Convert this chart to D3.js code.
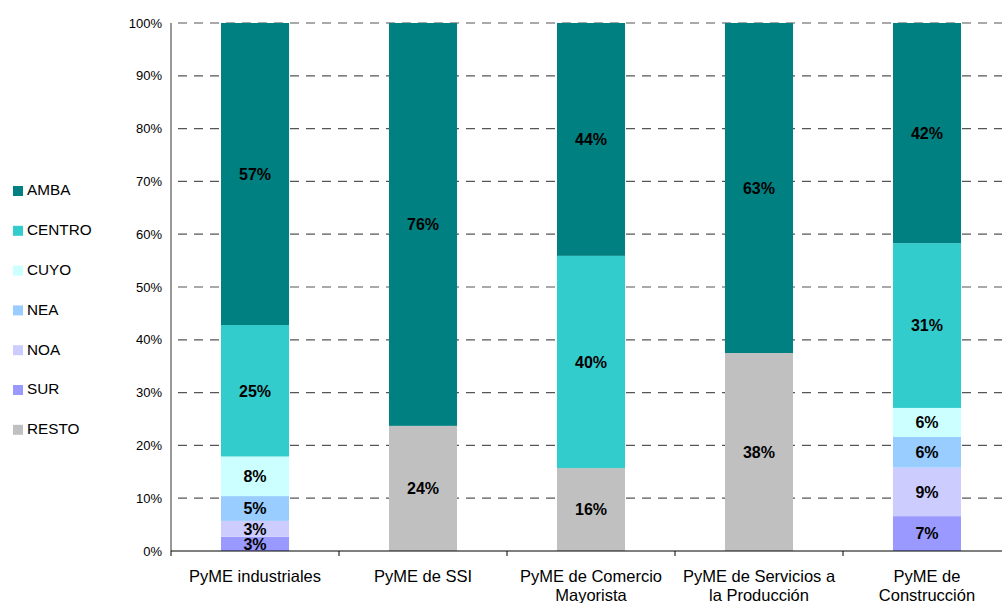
<!DOCTYPE html>
<html><head><meta charset="utf-8">
<script src="https://cdn.jsdelivr.net/npm/d3@7"></script>
<style>body{margin:0;background:#fff;}svg{display:block;font-family:"Liberation Sans",Arial,sans-serif;}</style>
</head><body><svg id="c" width="1002" height="603"></svg>
<script>
const categories = ["PyME industriales","PyME de SSI","PyME de Comercio\nMayorista","PyME de Servicios a\nla Producción","PyME de\nConstrucción"];
const seriesNames = ["RESTO","SUR","NOA","NEA","CUYO","CENTRO","AMBA"];
const legendOrder = ["AMBA","CENTRO","CUYO","NEA","NOA","SUR","RESTO"];
const colors = {AMBA:"#008080",CENTRO:"#33CCCC",CUYO:"#CCFFFF",NEA:"#99CCFF",NOA:"#CCCCFF",SUR:"#9999FF",RESTO:"#C0C0C0"};
const AMBA   = [57.2, 76.3, 44.1, 62.5, 41.7];
const CENTRO = [24.9, 0, 40.2, 0, 31.2];
const CUYO   = [7.5, 0, 0, 0, 5.5];
const NEA    = [4.7, 0, 0, 0, 5.8];
const NOA    = [3.0, 0, 0, 0, 9.2];
const SUR    = [2.7, 0, 0, 0, 6.6];
const RESTO  = [0, 23.7, 15.7, 37.5, 0];
const yTicks = [0,10,20,30,40,50,60,70,80,90,100];

const vals = {AMBA,CENTRO,CUYO,NEA,NOA,SUR,RESTO};
const rows = categories.map((c,i)=>{const r={cat:c};seriesNames.forEach(s=>r[s]=vals[s][i]);return r;});
const stack = d3.stack().keys(seriesNames)(rows);

const svg = d3.select("#c");
const mLeft=171, mTop=23, mBottom=551, bandW=168;
const x = d3.scaleBand().domain(categories).range([mLeft, mLeft+bandW*categories.length]).paddingInner(0.595).paddingOuter(0.2976);
const y = d3.scaleLinear().domain([0,100]).range([mBottom, mTop]);

// gridlines
svg.append("g").selectAll("line").data(yTicks.filter(t=>t>0)).join("line")
  .attr("x1",mLeft).attr("x2",1002).attr("y1",d=>y(d)).attr("y2",d=>y(d))
  .attr("stroke","#555").attr("stroke-width",1.2).attr("stroke-dasharray","9,7").attr("stroke-dashoffset",-7);

// bars
const g = svg.append("g");
stack.forEach(layer=>{
  g.append("g").selectAll("rect").data(layer.filter(d=>d.data[layer.key]>0)).join("rect")
    .attr("x",d=>x(d.data.cat)).attr("width",x.bandwidth())
    .attr("y",d=>y(d[1])).attr("height",d=>y(d[0])-y(d[1]))
    .attr("fill",colors[layer.key]);
});
stack.forEach(layer=>{
  g.append("g").selectAll("text").data(layer.filter(d=>d.data[layer.key]>0)).join("text")
    .attr("x",d=>x(d.data.cat)+x.bandwidth()/2).attr("y",d=>(y(d[0])+y(d[1]))/2)
    .attr("dy","0.36em").attr("text-anchor","middle")
    .attr("font-size",16).attr("font-weight","bold").attr("fill","#000")
    .text(d=>Math.round(d.data[layer.key])+"%");
});

// y axis
svg.append("line").attr("x1",mLeft).attr("x2",mLeft).attr("y1",mTop).attr("y2",mBottom).attr("stroke","#333");
svg.append("g").selectAll("text").data(yTicks).join("text")
  .attr("x",162).attr("y",d=>y(d)).attr("dy","0.35em").attr("text-anchor","end")
  .attr("font-size",13).attr("fill","#000").text(d=>d+"%");

// x axis
svg.append("line").attr("x1",mLeft).attr("x2",1002).attr("y1",mBottom).attr("y2",mBottom).attr("stroke","#000");
svg.append("g").selectAll("line").data(d3.range(categories.length)).join("line")
  .attr("x1",i=>mLeft+i*bandW).attr("x2",i=>mLeft+i*bandW).attr("y1",mBottom).attr("y2",mBottom+5).attr("stroke","#000");
svg.append("g").selectAll("text").data(categories).join("text")
  .attr("x",d=>x(d)+x.bandwidth()/2).attr("y",582).attr("text-anchor","middle")
  .attr("font-size",16.5).attr("fill","#000")
  .each(function(d){const t=d3.select(this);d.split("\n").forEach((ln,i)=>t.append("tspan").attr("x",x(d)+x.bandwidth()/2).attr("dy",i?19:0).text(ln));});

// legend
const lg = svg.append("g").selectAll("g").data(legendOrder).join("g")
  .attr("transform",(d,i)=>`translate(13,${190+i*39.8})`);
lg.append("rect").attr("x",0).attr("y",-4).attr("width",10).attr("height",10).attr("fill",d=>colors[d]);
lg.append("text").attr("x",14).attr("y",0).attr("dy","0.35em").attr("font-size",15.3).attr("fill","#000").text(d=>d);
</script></body></html>
